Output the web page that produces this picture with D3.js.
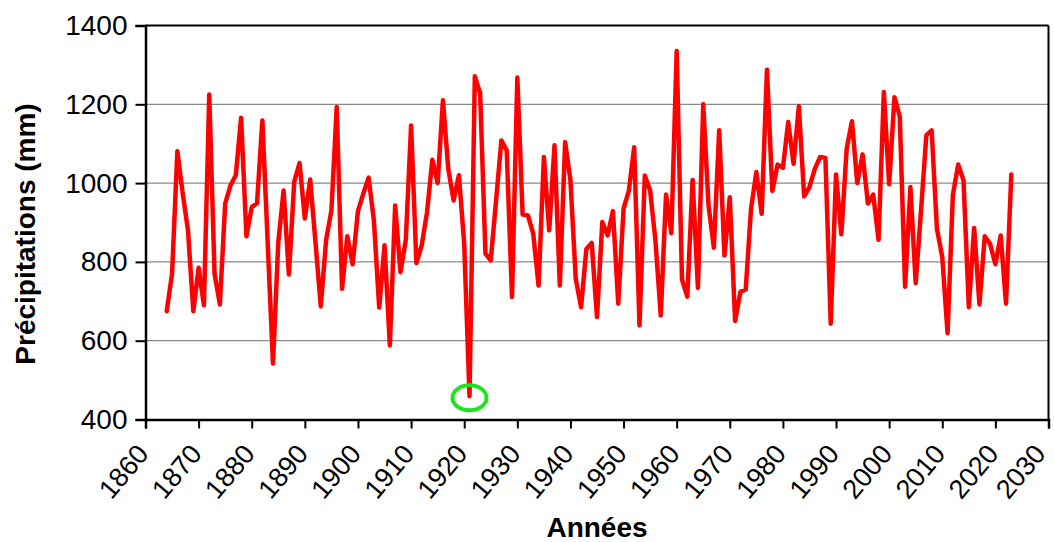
<!DOCTYPE html>
<html>
<head>
<meta charset="utf-8">
<script src="https://cdn.jsdelivr.net/npm/d3@7"></script>
<style>
  html, body { margin: 0; padding: 0; background: #fff; }
  svg { display: block; }
  text { font-family: "Liberation Sans", Arial, sans-serif; fill: #000; }
</style>
</head>
<body>
<svg id="chart" width="1054" height="542"></svg>
<script>
const startYear = 1864;
const precipitation = [
  675, 770, 1081, 975, 880, 675, 785, 690, 1225, 770,
  692, 948, 994, 1020, 1166, 865, 939, 949, 1159, 850,
  542, 850, 981, 768, 1003, 1051, 910, 1009, 850, 687,
  855, 931, 1193, 732, 865, 794, 929, 973, 1014, 905,
  684, 842, 588, 943, 774, 855, 1146, 797, 842, 926,
  1059, 1000, 1210, 1036, 956, 1020, 846, 459, 1271, 1228,
  821, 804, 956, 1108, 1083, 711, 1268, 920, 918, 871,
  740, 1066, 880, 1096, 740, 1104, 1007, 757, 685, 833,
  848, 660, 901, 867, 929, 694, 935, 981, 1091, 639,
  1019, 981, 854, 664, 971, 873, 1335, 755, 712, 1008,
  734, 1200, 943, 836, 1134, 816, 964, 650, 724, 730,
  935, 1028, 922, 1288, 980, 1047, 1039, 1155, 1049, 1195,
  966, 990, 1036, 1066, 1064, 643, 1022, 870, 1087, 1157,
  1000, 1073, 948, 971, 856, 1231, 997, 1218, 1169, 737,
  990, 746, 930, 1121, 1134, 884, 812, 619, 971, 1047,
  1007, 685, 886, 692, 865, 846, 794, 867, 694, 1022
];
const years = precipitation.map((_, i) => startYear + i);
const xTicks = d3.range(1860, 2031, 10);
const yTicks = [400, 600, 800, 1000, 1200, 1400];
const highlightYear = 1921;
const highlightValue = 455;
const xTitle = "Années";
const yTitle = "Précipitations (mm)";

const svg = d3.select("#chart");
const mLeft = 145.5, mRight = 1048.5, mTop = 25.5, mBottom = 419.5;

const x = d3.scaleLinear().domain([1860, 2030]).range([mLeft, mRight]);
const y = d3.scaleLinear().domain([400, 1400]).range([mBottom, mTop]);

// gridlines
svg.append("g")
  .selectAll("line")
  .data(yTicks.filter(t => t > 400 && t < 1400))
  .join("line")
  .attr("x1", mLeft).attr("x2", mRight)
  .attr("y1", d => y(d)).attr("y2", d => y(d))
  .attr("stroke", "#8a8a8a").attr("stroke-width", 1.3);

// frame top and right
svg.append("line").attr("x1", mLeft).attr("x2", mRight).attr("y1", mTop).attr("y2", mTop)
  .attr("stroke", "#000").attr("stroke-width", 2);
svg.append("line").attr("x1", mRight).attr("x2", mRight).attr("y1", mTop).attr("y2", mBottom)
  .attr("stroke", "#000").attr("stroke-width", 2);

// data line
const line = d3.line().x((d, i) => x(years[i])).y(d => y(d));
svg.append("path")
  .datum(precipitation)
  .attr("d", line)
  .attr("fill", "none")
  .attr("stroke", "#ff0000")
  .attr("stroke-width", 4.5)
  .attr("stroke-linejoin", "round")
  .attr("stroke-linecap", "round");

// highlight ellipse
svg.append("ellipse")
  .attr("cx", x(highlightYear))
  .attr("cy", y(highlightValue))
  .attr("rx", 17)
  .attr("ry", 12.5)
  .attr("fill", "none")
  .attr("stroke", "#1ee31e")
  .attr("stroke-width", 4);

// y axis
const yAxis = svg.append("g").attr("transform", `translate(${mLeft},0)`)
  .call(d3.axisLeft(y).tickValues(yTicks).tickSize(10).tickPadding(8).tickFormat(d3.format("d")));
yAxis.select(".domain").attr("stroke", "#000").attr("stroke-width", 2.5);
yAxis.selectAll(".tick line").attr("stroke", "#000").attr("stroke-width", 2);
yAxis.selectAll(".tick text").attr("font-size", 28).attr("fill", "#1a1a1a")
  .attr("font-family", "Liberation Sans, Arial, sans-serif");

// x axis
const xAxis = svg.append("g").attr("transform", `translate(0,${mBottom})`)
  .call(d3.axisBottom(x).tickValues(xTicks).tickSize(9).tickFormat(d3.format("d")));
xAxis.select(".domain").attr("stroke", "#000").attr("stroke-width", 2.5);
xAxis.selectAll(".tick line").attr("stroke", "#000").attr("stroke-width", 2);
xAxis.selectAll(".tick text")
  .attr("font-size", 27).attr("fill", "#1a1a1a")
  .attr("font-family", "Liberation Sans, Arial, sans-serif")
  .attr("text-anchor", "end")
  .attr("y", 0).attr("dy", 0)
  .attr("transform", (d, i, n) => i === n.length - 1
    ? "translate(-2,35) rotate(-50)"
    : "translate(4,35) rotate(-50)");

// axis titles
svg.append("text")
  .attr("x", x(1945)).attr("y", 537)
  .attr("text-anchor", "middle")
  .attr("font-size", 28).attr("font-weight", "bold")
  .attr("fill", "#1a1a1a")
  .text(xTitle);

svg.append("text")
  .attr("transform", "translate(35,234) rotate(-90)")
  .attr("text-anchor", "middle")
  .attr("font-size", 28).attr("font-weight", "bold")
  .attr("fill", "#1a1a1a")
  .text(yTitle);
</script>
</body>
</html>
